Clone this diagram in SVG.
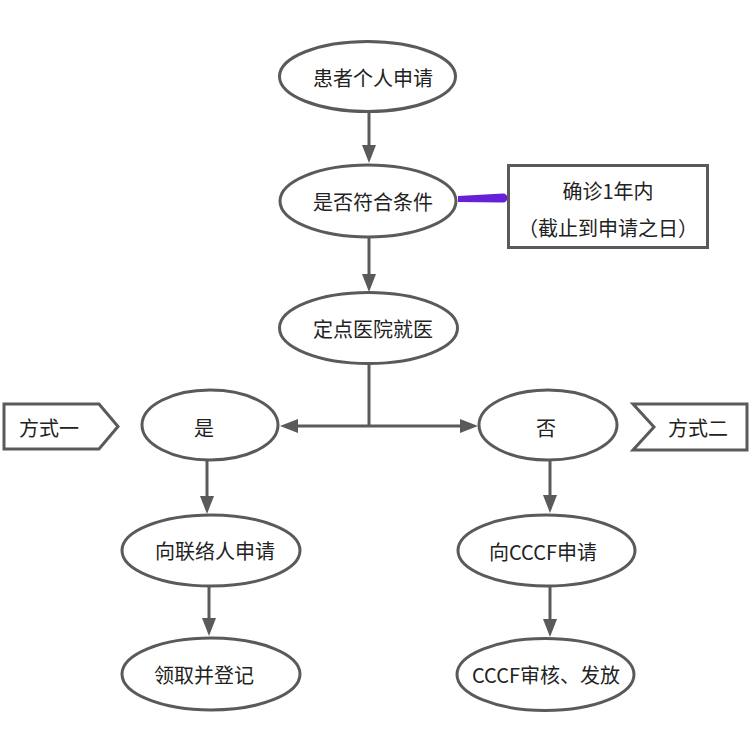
<svg xmlns="http://www.w3.org/2000/svg" width="749" height="744" viewBox="0 0 749 744">
<defs>
<style>
.n{fill:#fff;stroke:#5a5a5a;stroke-width:3}
.t{font-family:"Noto Sans CJK SC","Microsoft YaHei",sans-serif;font-size:20px;fill:#222;dominant-baseline:central}
.c{fill:none;stroke:#5a5a5a;stroke-width:3}
</style>
<marker id="ah" markerUnits="userSpaceOnUse" markerWidth="18" markerHeight="14" refX="0" refY="7" orient="auto" overflow="visible">
<path d="M0,0 L18,7 L0,14 z" fill="#5a5a5a"/>
</marker>
</defs>
<rect width="749" height="744" fill="#fff"/>
<g id="connectors">
<path class="c" d="M369,112 V145" marker-end="url(#ah)"/>
<path class="c" d="M369,238 V274" marker-end="url(#ah)"/>
<path class="c" d="M369,363 V426"/>
<path class="c" d="M369,426 H298" marker-end="url(#ah)"/>
<path class="c" d="M369,426 H460" marker-end="url(#ah)"/>
<path class="c" d="M207,461 V496" marker-end="url(#ah)"/>
<path class="c" d="M209,586 V618" marker-end="url(#ah)"/>
<path class="c" d="M550,461 V495" marker-end="url(#ah)"/>
<path class="c" d="M550,587 V619" marker-end="url(#ah)"/>
<path d="M458,196 L503,193.5 A4.5,4.5 0 0 1 503,202.5 L458,202 z" fill="#6620d8"/>
</g>
<g id="n1"><ellipse class="n" cx="367.5" cy="76.5" rx="88" ry="35"/><text class="t" x="313" y="77">患者个人申请</text></g>
<g id="n2"><ellipse class="n" cx="368" cy="201" rx="88" ry="36"/><text class="t" x="313" y="201">是否符合条件</text></g>
<g id="note"><rect class="n" x="508.5" y="165.5" width="199" height="82"/><text class="t" x="608" y="190" text-anchor="middle">确诊1年内</text><text class="t" x="608" y="227" text-anchor="middle">（截止到申请之日）</text></g>
<g id="n3"><ellipse class="n" cx="368.5" cy="328" rx="89" ry="35.5"/><text class="t" x="313" y="328">定点医院就医</text></g>
<g id="yes"><ellipse class="n" cx="210" cy="425" rx="68" ry="35"/><text class="t" x="194" y="427">是</text></g>
<g id="no"><ellipse class="n" cx="548" cy="425" rx="69" ry="35"/><text class="t" x="536" y="427">否</text></g>
<g id="way1"><polygon class="n" points="4,404 99,404 118,426.5 99,449 4,449"/><text class="t" x="19" y="427">方式一</text></g>
<g id="way2"><polygon class="n" points="633,404 747,404 747,450 633,450 654,427"/><text class="t" x="668" y="427">方式二</text></g>
<g id="l1"><ellipse class="n" cx="211" cy="550.5" rx="89" ry="35.5"/><text class="t" x="155" y="550">向联络人申请</text></g>
<g id="l2"><ellipse class="n" cx="211" cy="674" rx="89" ry="36"/><text class="t" x="154" y="674">领取并登记</text></g>
<g id="r1"><ellipse class="n" cx="546.5" cy="550.5" rx="88.5" ry="35.5"/><text class="t" x="489" y="551">向CCCF申请</text></g>
<g id="r2"><ellipse class="n" cx="545.5" cy="674.5" rx="88.5" ry="36"/><text class="t" x="472" y="674">CCCF审核、发放</text></g>
</svg>
